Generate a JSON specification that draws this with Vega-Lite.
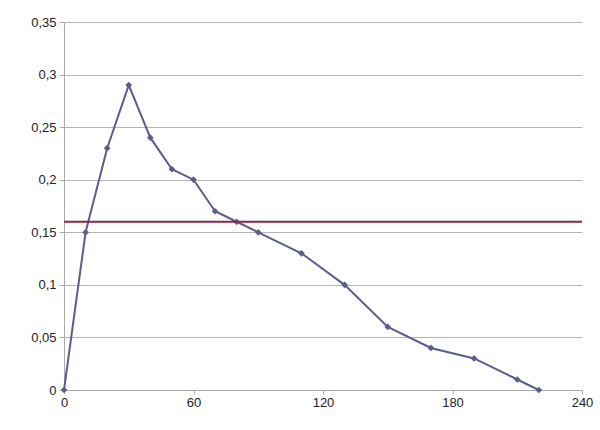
{
  "$schema": "https://vega.github.io/schema/vega-lite/v6.json",
  "autosize": {"type": "none"},
  "padding": {"left": 64, "top": 22, "right": 18, "bottom": 40},
  "width": 518,
  "height": 368,
  "background": "white",
  "config": {
    "view": {"stroke": null},
    "font": "Liberation Sans",
    "axis": {"labelFont": "Liberation Sans", "labelFontSize": 13, "labelColor": "#222222", "domainColor": "#aaaaaa", "tickColor": "#aaaaaa", "gridColor": "#b4b4b4", "title": null}
  },
  "data": {"values": [
    {"x": 0, "y": 0}, {"x": 10, "y": 0.15}, {"x": 20, "y": 0.23}, {"x": 30, "y": 0.29},
    {"x": 40, "y": 0.24}, {"x": 50, "y": 0.21}, {"x": 60, "y": 0.2}, {"x": 70, "y": 0.17},
    {"x": 80, "y": 0.16}, {"x": 90, "y": 0.15}, {"x": 110, "y": 0.13}, {"x": 130, "y": 0.1},
    {"x": 150, "y": 0.06}, {"x": 170, "y": 0.04}, {"x": 190, "y": 0.03}, {"x": 210, "y": 0.01},
    {"x": 220, "y": 0}
  ]},
  "layer": [
    {
      "mark": {"type": "line", "color": "#5c5c8e", "strokeWidth": 2, "point": {"shape": "diamond", "size": 45, "filled": true, "color": "#5c5c8e"}},
      "encoding": {
        "x": {"field": "x", "type": "quantitative", "scale": {"domain": [0, 240], "nice": false},
          "axis": {"values": [0, 60, 120, 180, 240], "grid": false, "tickSize": 4, "labelPadding": 2, "labelFlush": false}},
        "y": {"field": "y", "type": "quantitative", "scale": {"domain": [0, 0.35], "nice": false},
          "axis": {"values": [0, 0.05, 0.1, 0.15, 0.2, 0.25, 0.3, 0.35], "grid": true, "tickSize": 5, "labelPadding": 3,
            "labelExpr": "replace(format(datum.value, '.2~f'), '.', ',')"}}
      }
    },
    {
      "data": {"values": [{"ref": 0.16}]},
      "mark": {"type": "rule", "color": "#8b2345", "strokeWidth": 2},
      "encoding": {"y": {"field": "ref", "type": "quantitative"}}
    }
  ]
}
